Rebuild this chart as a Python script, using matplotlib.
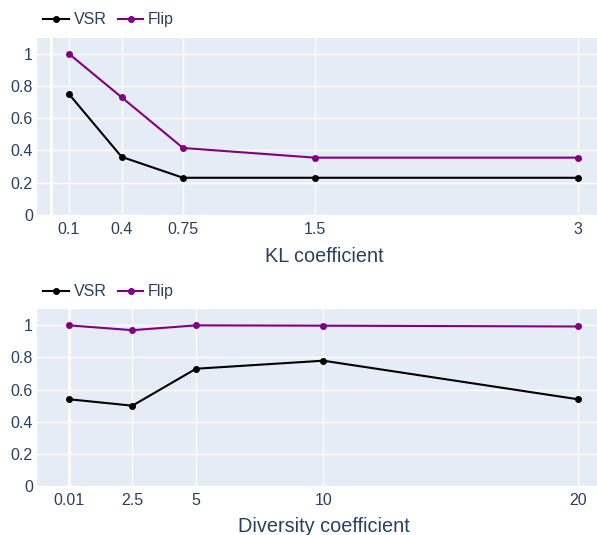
import numpy as np
import matplotlib
matplotlib.use("Agg")
import matplotlib.pyplot as plt

plt.rcParams['font.family'] = ['Liberation Sans', 'DejaVu Sans']

# data
kl_coef = [0.1, 0.4, 0.75, 1.5, 3]
kl_labels = ['0.1', '0.4', '0.75', '1.5', '3']
kl_vsr = [0.75, 0.36, 0.23, 0.23, 0.23]
kl_flip = [1.0, 0.73, 0.415, 0.355, 0.355]

div_coef = [0.01, 2.5, 5, 10, 20]
div_labels = ['0.01', '2.5', '5', '10', '20']
div_vsr = [0.54, 0.50, 0.73, 0.78, 0.54]
div_flip = [1.0, 0.97, 1.0, 0.998, 0.993]

y_ticks = [0, 0.2, 0.4, 0.6, 0.8, 1]
y_labels = ['0', '0.2', '0.4', '0.6', '0.8', '1']

BG = '#E5ECF6'
TXT = '#2a3f5f'
W, H = 597, 535

fig = plt.figure(figsize=(W / 100, H / 100), dpi=100)


def make_panel(rect, x, vsr, flip, xlabels, xlim, title, title_y):
    ax = fig.add_axes(rect)
    ax.set_facecolor(BG)
    for s in ax.spines.values():
        s.set_visible(False)
    ax.set_axisbelow(True)
    ax.grid(True, color='white', linewidth=1)
    ax.axvline(0, color='white', linewidth=2, zorder=0.5)
    ax.plot(x, vsr, color='black', lw=1.5, marker='o', ms=4, label='VSR')
    ax.plot(x, flip, color='purple', lw=1.5, marker='o', ms=4, label='Flip')
    ax.set_xlim(*xlim)
    ax.set_ylim(0, 1.1)
    ax.set_xticks(x)
    ax.set_xticklabels(xlabels)
    ax.set_yticks(y_ticks)
    ax.set_yticklabels(y_labels)
    ax.tick_params(length=0, labelsize=11.5, labelcolor=TXT)
    ax.tick_params(axis='x', pad=5)
    ax.tick_params(axis='y', pad=3)
    fig.text(324 / W, 1 - title_y / H, title, ha='center', va='center',
             fontsize=14.3, color=TXT)
    leg = ax.legend(loc='center left', bbox_to_anchor=(0.0, 1.1), ncol=2,
                    frameon=False, fontsize=11.5, handlelength=1.6,
                    handletextpad=0.3, columnspacing=0.7, borderaxespad=0)
    for t in leg.get_texts():
        t.set_color(TXT)
    return ax


make_panel([37 / W, 1 - 214.8 / H, 560 / W, 177.1 / H],
           kl_coef, kl_vsr, kl_flip, kl_labels, (-0.082, 3.109),
           'KL coefficient', 256)
make_panel([37 / W, 1 - 486 / H, 560 / W, 176.7 / H],
           div_coef, div_vsr, div_flip, div_labels, (-1.247, 20.75),
           'Diversity coefficient', 526)

fig.savefig('out.png', dpi=100)
